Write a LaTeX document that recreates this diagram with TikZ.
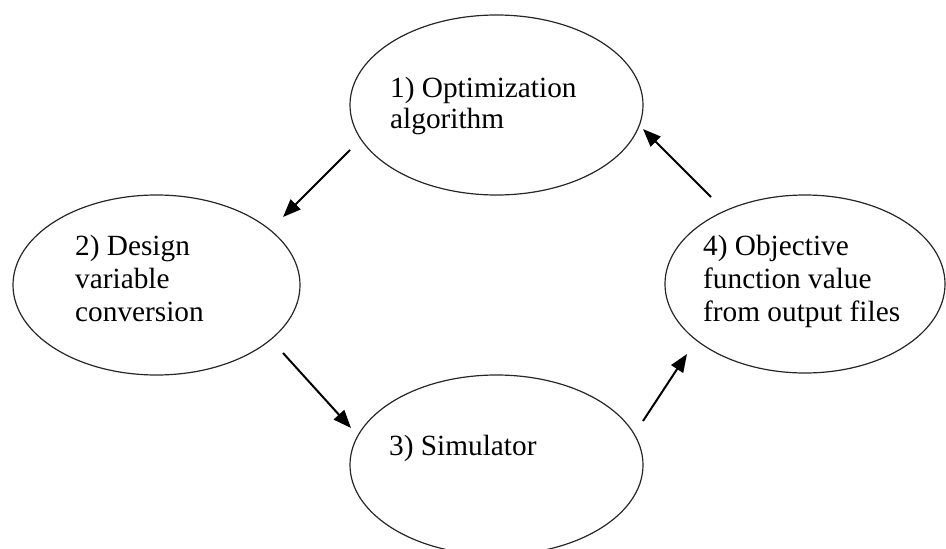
\documentclass[tikz,border=0pt]{standalone}
\usepackage{fontspec}
\setmainfont{Liberation Serif}
\usetikzlibrary{shapes.geometric,arrows.meta}
\begin{document}
\begin{tikzpicture}[x=1pt,y=-1pt,
  stage/.style 2 args={draw=black!85, ellipse, minimum width=#1pt, minimum height=#2pt, inner sep=0pt, line width=1.2pt},
  lbl/.style={anchor=base west, inner sep=0pt, font=\fontsize{29.3}{33}\selectfont},
  flow/.style={line width=2pt, -{Triangle[length=18pt,width=14pt]}}]
\clip (0,0) rectangle (946,549);
\node[stage={293}{180}] (e1) at (496.5,105) {};
\node[stage={287}{180}] (e2) at (156.5,285) {};
\node[stage={293}{180}] (e3) at (496.5,465) {};
\node[stage={280}{178}] (e4) at (805,284) {};
\node[lbl, font=\fontsize{29.3}{31}\selectfont] (t1) at (390,97) {\begin{tabular}[t]{@{}l@{}}1) Optimization\\algorithm\end{tabular}};
\node[lbl] (t2) at (75,255) {\begin{tabular}[t]{@{}l@{}}2) Design\\variable\\conversion\end{tabular}};
\node[lbl] (t3) at (389,455) {3) Simulator};
\node[lbl] (t4) at (703,255) {\begin{tabular}[t]{@{}l@{}}4) Objective\\function value\\from output files\end{tabular}};
\coordinate (a1s) at (350,150);
\coordinate (a1e) at (283,217);
\coordinate (a2s) at (283,353);
\coordinate (a2e) at (351,428);
\coordinate (a3s) at (643,421);
\coordinate (a3e) at (687,354);
\coordinate (a4s) at (711,197);
\coordinate (a4e) at (643,129);
\draw[flow] (a1s) -- (a1e);
\draw[flow] (a2s) -- (a2e);
\draw[flow] (a3s) -- (a3e);
\draw[flow] (a4s) -- (a4e);
\end{tikzpicture}
\end{document}
